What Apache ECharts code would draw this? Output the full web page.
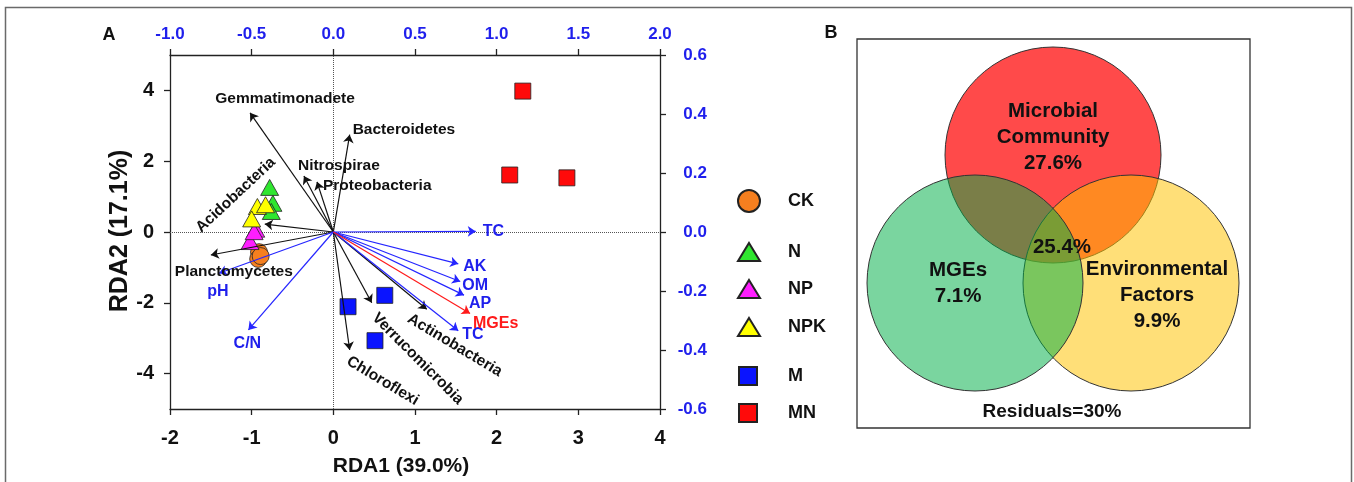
<!DOCTYPE html>
<html><head><meta charset="utf-8">
<script src="https://cdn.jsdelivr.net/npm/echarts@6/dist/echarts.min.js"></script>
<style>html,body{margin:0;padding:0;background:#fff}#c{width:1354px;height:482px}</style>
</head><body><div id="c"></div>
<script>
const FONT = '"Liberation Sans", Arial, Helvetica, sans-serif';

// ---- Sample scores (primary axes: RDA1, RDA2) ----
const groupNames = ['CK', 'N', 'NP', 'NPK', 'M', 'MN'];
const ckPts  = [[-0.91, -0.57], [-0.92, -0.76], [-0.89, -0.68]];
const nPts   = [[-0.78, 1.26], [-0.74, 0.81], [-0.76, 0.58]];
const npPts  = [[-0.95, 0.08], [-1.02, -0.27], [-0.97, 0.01]];
const npkPts = [[-0.93, 0.72], [-0.83, 0.77], [-1.00, 0.37]];
const mPts   = [[0.18, -2.11], [0.63, -1.79], [0.51, -3.07]];
const mnPts  = [[2.32, 3.98], [2.16, 1.61], [2.86, 1.53]];

// ---- Loadings (secondary axes) ----
const speciesNames = ['Gemmatimonadete', 'Bacteroidetes', 'Nitrospirae', 'Proteobacteria', 'Acidobacteria',
                      'Planctomycetes', 'Actinobacteria', 'Verrucomicrobia', 'Chloroflexi'];
const speciesX = [-0.51, 0.10, -0.18, -0.10, -0.42, -0.75, 0.572, 0.235, 0.10];
const speciesY = [0.404, 0.33, 0.19, 0.17, 0.027, -0.078, -0.262, -0.240, -0.40];

const envNames = ['TC', 'AK', 'OM', 'AP', 'TC', 'pH', 'C/N'];
const envX = [0.872, 0.765, 0.777, 0.800, 0.765, -0.70, -0.52];
const envY = [0.002, -0.108, -0.168, -0.214, -0.335, -0.140, -0.332];

const mgeNames = ['MGEs'];
const mgeX = [0.837];
const mgeY = [-0.276];

// ---- Axis ticks ----
const leftTicks = [-4, -2, 0, 2, 4];

// ---- Variation partitioning (panel B) ----
const vennNames = ['Microbial\nCommunity', 'MGEs', 'Environmental\nFactors'];
const vennValues = [27.6, 7.1, 9.9];
const sharedValue = 25.4;
const residualValue = 30;

// ---- Label placement styles (pixel offsets from arrow tips) ----
const speciesLabelStyle = [
  {dx: 35, dy: -14, align: 'center', rot: 0},
  {dx: 3, dy: -5, align: 'left', rot: 0},
  {dx: -6, dy: -10, align: 'left', rot: 0},
  {dx: 6, dy: 4, align: 'left', rot: 0},
  {dx: -29, dy: -29, align: 'center', rot: 43},
  {dx: 23, dy: 17, align: 'center', rot: 0},
  {dx: 28, dy: 36, align: 'center', rot: -31},
  {dx: 46, dy: 56, align: 'center', rot: -45},
  {dx: 33, dy: 31, align: 'center', rot: -31}
];
const envLabelStyle = [
  {dx: 7, dy: 0, align: 'left'},
  {dx: 5, dy: 3, align: 'left'},
  {dx: 2, dy: 4, align: 'left'},
  {dx: 5, dy: 8, align: 'left'},
  {dx: 4, dy: 4, align: 'left'},
  {dx: -1, dy: 18, align: 'center'},
  {dx: -1, dy: 14, align: 'center'}
];
const mgeLabelStyle = [{dx: 3, dy: 10, align: 'left'}];

const BLUE = '#1f1fec';
const blackTxt = '#111';

const chart = echarts.init(document.getElementById('c'), null, {renderer: 'canvas'});

const axisLineStyle = {color: '#222', width: 1.3};
function fmt1(v) { return (Math.round(v * 10) / 10).toFixed(1); }

function scatter(name, data, symbol, size, color) {
  return {
    name, type: 'scatter', data, symbol, symbolSize: size,
    xAxisIndex: 0, yAxisIndex: 0, z: 3,
    itemStyle: {color, borderColor: '#222', borderWidth: 0.8, opacity: 1}
  };
}
function arrows(xs, ys, color) {
  return {
    type: 'lines', coordinateSystem: 'cartesian2d', xAxisIndex: 1, yAxisIndex: 1,
    data: xs.map((x, i) => ({coords: [[0, 0], [x, ys[i]]]})),
    symbol: ['none', 'arrow'], symbolSize: 8, silent: true, z: 4,
    lineStyle: {color, width: 1.2, opacity: 1, curveness: 0}
  };
}
function legendFor(name, left, top, w, h, pad) {
  return {
    data: [name], left, top, itemWidth: w, itemHeight: h, itemGap: 0,
    orient: 'vertical', selectedMode: false, symbolKeepAspect: false,
    textStyle: {fontSize: 18, fontWeight: 'bold', color: blackTxt, fontFamily: FONT, padding: [0, 0, 0, pad]}
  };
}

const option = {
  animation: false,
  backgroundColor: '#fff',
  textStyle: {fontFamily: FONT},
  grid: {left: 170, top: 55, width: 490, height: 354, containLabel: false},
  xAxis: [
    {type: 'value', position: 'bottom', min: -2, max: 4, interval: 1,
     axisLine: {show: true, onZero: false, lineStyle: axisLineStyle},
     axisTick: {show: true, length: 6, lineStyle: axisLineStyle},
     axisLabel: {margin: 19, fontSize: 20, fontWeight: 'bold', color: blackTxt, fontFamily: FONT},
     splitLine: {show: false}},
    {type: 'value', position: 'top', min: -1, max: 2, interval: 0.5,
     axisLine: {show: true, onZero: false, lineStyle: axisLineStyle},
     axisTick: {show: true, length: 6, lineStyle: axisLineStyle},
     axisLabel: {margin: 12, fontSize: 17, fontWeight: 'bold', color: BLUE, fontFamily: FONT, formatter: fmt1},
     splitLine: {show: false}}
  ],
  yAxis: [
    {type: 'value', position: 'left', min: -5, max: 5,
     axisLine: {show: true, onZero: false, lineStyle: axisLineStyle},
     axisTick: {show: true, length: 6, lineStyle: axisLineStyle, customValues: leftTicks},
     axisLabel: {margin: 16, fontSize: 20, fontWeight: 'bold', color: blackTxt, fontFamily: FONT, customValues: leftTicks},
     splitLine: {show: false}},
    {type: 'value', position: 'right', min: -0.6, max: 0.6, interval: 0.2,
     axisLine: {show: true, onZero: false, lineStyle: axisLineStyle},
     axisTick: {show: true, length: 6, lineStyle: axisLineStyle},
     axisLabel: {margin: 47, align: 'right', fontSize: 17, fontWeight: 'bold', color: BLUE, fontFamily: FONT, formatter: fmt1},
     splitLine: {show: false}}
  ],
  legend: [
    legendFor(groupNames[0], 732, 184, 22, 22, 23),
    legendFor(groupNames[1], 732, 237, 22, 18, 23),
    legendFor(groupNames[2], 732, 274, 22, 18, 23),
    legendFor(groupNames[3], 732, 312, 22, 18, 23),
    legendFor(groupNames[4], 733, 361, 18, 18, 26),
    legendFor(groupNames[5], 733, 398, 18, 18, 26)
  ],
  series: [
    Object.assign(scatter(groupNames[0], ckPts, 'circle', 17, '#f57f1f'), {
      markLine: {
        silent: true, symbol: ['none', 'none'], label: {show: false},
        lineStyle: {type: 'dotted', color: '#555', width: 1},
        data: [{xAxis: 0}, {yAxis: 0}], z: 1
      }
    }),
    scatter(groupNames[1], nPts, 'triangle', [18, 16], '#2fe62f'),
    scatter(groupNames[2], npPts, 'triangle', [18, 16], '#ff1eff'),
    scatter(groupNames[3], npkPts, 'triangle', [18, 16], '#ffff00'),
    scatter(groupNames[4], mPts, 'rect', 16, '#0a14ff'),
    scatter(groupNames[5], mnPts, 'rect', 16, '#ff0a0a'),
    arrows(speciesX, speciesY, '#111'),
    arrows(envX, envY, '#2525ff'),
    arrows(mgeX, mgeY, '#ff1a1a')
  ]
};
chart.setOption(option);

// ---- graphic overlays ----
const g = [];
g.push({type: 'rect', shape: {x: 5.5, y: 7.5, width: 1346, height: 520}, style: {fill: 'none', stroke: '#6a6a6a', lineWidth: 1.5}, silent: true, z: 0});

function txt(text, x, y, opts) {
  opts = opts || {};
  const align = opts.align || 'center';
  return {
    type: 'text', x, y, rotation: (opts.rot || 0) * Math.PI / 180, z: 10, silent: true,
    style: {
      text, fill: opts.color || blackTxt,
      font: 'bold ' + (opts.size || 16) + 'px ' + FONT,
      textAlign: align, align: align, textVerticalAlign: 'middle', verticalAlign: 'middle',
      lineHeight: opts.lh || undefined
    }
  };
}

function addLabels(names, xs, ys, styles, color, size) {
  names.forEach((n, i) => {
    const p = chart.convertToPixel({xAxisIndex: 1, yAxisIndex: 1}, [xs[i], ys[i]]);
    const s = styles[i];
    g.push(txt(n, p[0] + s.dx, p[1] + s.dy, {align: s.align, rot: s.rot, color, size}));
  });
}
addLabels(speciesNames, speciesX, speciesY, speciesLabelStyle, blackTxt, 15.5);
addLabels(envNames, envX, envY, envLabelStyle, BLUE, 16);
addLabels(mgeNames, mgeX, mgeY, mgeLabelStyle, '#ff1a1a', 16);

// axis titles & panel letters
g.push(txt('RDA1 (39.0%)', 401, 466, {size: 21}));
g.push(txt('RDA2 (17.1%)', 120, 231, {size: 25, rot: 90}));
g.push(txt('A', 109, 35, {size: 18}));
g.push(txt('B', 831, 33, {size: 18}));

// ---- Panel B: Venn ----
g.push({type: 'rect', shape: {x: 857, y: 39, width: 393, height: 389}, style: {fill: 'none', stroke: '#333', lineWidth: 1.3}, silent: true, z: 1});
const R = 108;
g.push({type: 'circle', shape: {cx: 1053, cy: 155, r: R}, style: {fill: 'rgba(255,0,0,0.71)', stroke: '#333', lineWidth: 1}, silent: true, z: 2});
g.push({type: 'circle', shape: {cx: 1131, cy: 283, r: R}, style: {fill: 'rgba(255,195,0,0.53)', stroke: '#333', lineWidth: 1}, silent: true, z: 3});
g.push({type: 'circle', shape: {cx: 975, cy: 283, r: R}, style: {fill: 'rgba(0,175,70,0.52)', stroke: '#333', lineWidth: 1}, silent: true, z: 4});

g.push(txt(vennNames[0] + '\n' + vennValues[0] + '%', 1053, 137, {size: 20.5, lh: 26}));
g.push(txt(vennNames[1] + '\n' + vennValues[1] + '%', 958, 283, {size: 20.5, lh: 26}));
g.push(txt(vennNames[2] + '\n' + vennValues[2] + '%', 1157, 295, {size: 20.5, lh: 26}));
g.push(txt(sharedValue + '%', 1062, 247, {size: 20.5}));
g.push(txt('Residuals=' + residualValue + '%', 1052, 412, {size: 19}));

chart.setOption({graphic: {elements: g}});
</script>
</body></html>
